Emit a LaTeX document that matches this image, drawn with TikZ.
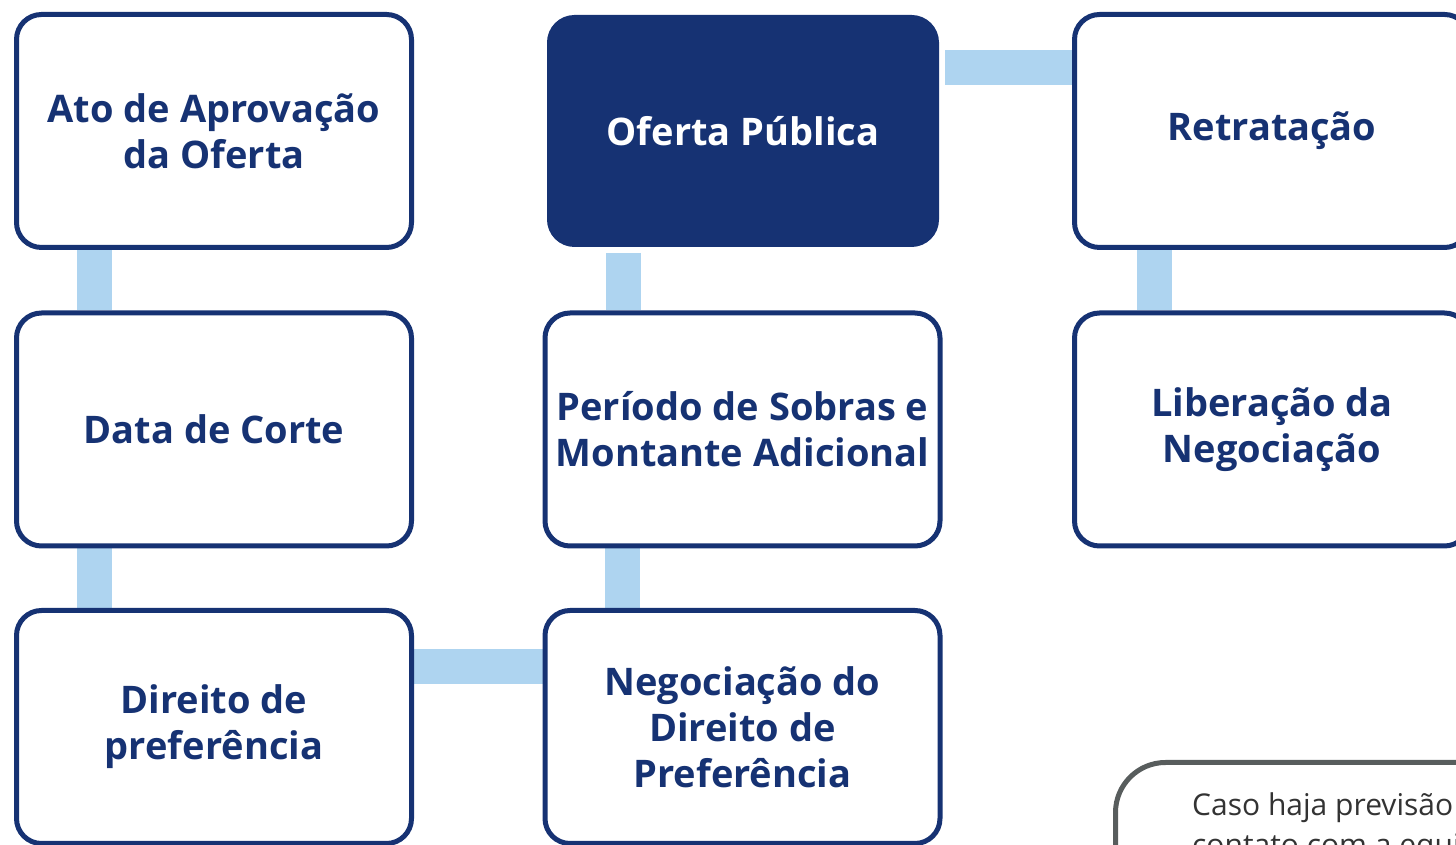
\documentclass[tikz,border=0pt]{standalone}
\usepackage{fontspec}
\setmainfont{Open Sans}
\usetikzlibrary{backgrounds}

\definecolor{azulescuro}{RGB}{22,50,115}
\definecolor{azulclaro}{RGB}{174,212,240}
\definecolor{cinzaborda}{RGB}{88,93,93}
\definecolor{cinzatexto}{RGB}{51,51,51}

\tikzset{
  etapa/.style={draw=azulescuro, fill=white, line width=5pt, rounded corners=25pt,
    minimum width=395pt, minimum height=233pt, align=center, text=azulescuro,
    font=\bfseries\fontsize{38}{46}\selectfont},
  destaque/.style={etapa, fill=azulescuro, text=white,
    minimum width=387pt, minimum height=227pt},
  ligacao/.style={azulclaro, line width=35pt},
  nota/.style={draw=cinzaborda, fill=white, line width=5pt, rounded corners=50pt},
  notatexto/.style={text=cinzatexto, align=left, inner sep=0pt,
    font=\fontsize{30}{40}\selectfont}
}

\begin{document}
\begin{tikzpicture}[x=1pt,y=1pt]
    \useasboundingbox (0,0) rectangle (1456,845);
    \clip (0,0) rectangle (1456,845);

    % Caixas principais
    \node[etapa] (ato) at (214,714) {Ato de Aprovação\\da Oferta};
    \node[destaque] (oferta) at (743,714) {Oferta Pública};
    \node[etapa] (retratacao) at (1272,714) {Retratação};

    \node[etapa] (corte) at (214,415.5) {Data de Corte};
    \node[etapa] (sobras) at (742.5,415.5) {Período de Sobras e\\Montante Adicional};
    \node[etapa] (liberacao) at (1272,415.5) {Liberação da\\Negociação};

    \node[etapa] (direito) at (214,118) {Direito de\\preferência};
    \node[etapa] (negociacao) at (742.5,118) {Negociação do\\Direito de\\Preferência};

    % Ligacoes entre as etapas
    \begin{pgfonlayer}{background}
        \draw[ligacao] ([xshift=80pt]ato.south west) -- ([xshift=80pt]ato.south west |- corte.north);
        \draw[ligacao] ([xshift=80pt]corte.south west) -- ([xshift=80pt]corte.south west |- direito.north);
        \draw[ligacao] ([yshift=-59pt]direito.north east) -- ([yshift=-59pt]direito.north east -| negociacao.west);
        \draw[ligacao] ([xshift=80pt]negociacao.north west) -- ([xshift=80pt]negociacao.north west |- sobras.south);
        \draw[ligacao] ([xshift=76pt,yshift=-6pt]oferta.south west) -- ([xshift=76pt]oferta.south west |- sobras.north);
        \draw[ligacao] ([xshift=6pt,yshift=-53pt]oferta.north east) -- ([yshift=-53pt]oferta.north east -| retratacao.west);
        \draw[ligacao] ([xshift=82pt]retratacao.south west) -- ([xshift=82pt]retratacao.south west |- liberacao.north);
    \end{pgfonlayer}

    % Caixa de observacao (cortada na borda)
    \draw[nota] (1115.5,82.5) rectangle (1640,-120);
    \node[notatexto, anchor=base west] (aviso) at (1192,-11) {Caso haja previsão\\contato com a equipe};
\end{tikzpicture}
\end{document}
